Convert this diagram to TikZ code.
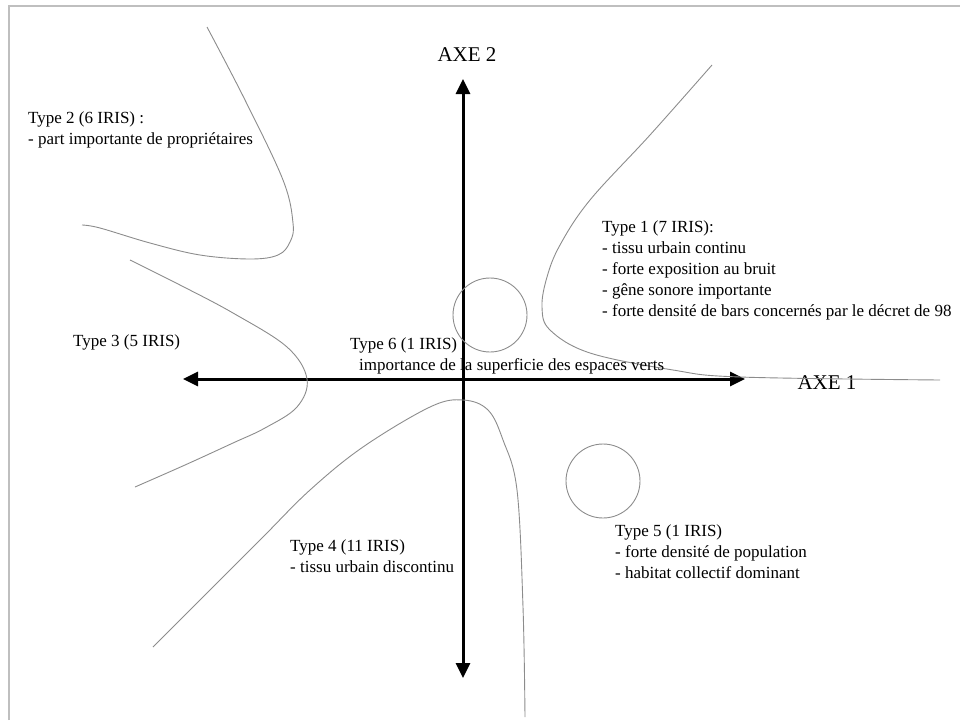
\documentclass[tikz,border=0pt]{standalone}
\usepackage{fontspec}
\setmainfont{Liberation Serif}
\usetikzlibrary{arrows.meta}
\tikzset{
  axe/.style={line width=3pt,-{Triangle[length=15pt,width=14pt]}},
  zone/.style={draw=black!45,line width=0.9pt},
  typetxt/.style={anchor=west,inner sep=0pt,align=left,font=\fontsize{17}{21}\selectfont},
  axetxt/.style={inner sep=0pt,font=\fontsize{21}{24}\selectfont}
}
\begin{document}
\begin{tikzpicture}[x=1pt,y=-1pt]
	\useasboundingbox (0,0) rectangle (960,720);
	\draw[black!25,line width=1.2pt] (9,720) -- (9,6) -- (960,6);

	% axes
	\coordinate (o) at (463,379);
	\coordinate (e1) at (745,379);
	\coordinate (w1) at (183,379);
	\coordinate (n2) at (463,79);
	\coordinate (s2) at (463,678);
	\draw[axe] (o) -- (e1);
	\draw[axe] (o) -- (w1);
	\draw[axe] (o) -- (n2);
	\draw[axe] (o) -- (s2);
	\node[axetxt] (axe1) at (827,383) {AXE 1};
	\node[axetxt] (axe2) at (467,55) {AXE 2};

	% zones
	\draw[zone] plot[smooth,tension=0.6] coordinates {(207,27) (245,100) (283,180) (293,223) (290,242) (278,255) (250,259) (200,255) (150,243) (100,228) (82,225)};
	\draw[zone] plot[smooth,tension=0.6] coordinates {(130,260) (180,285) (233,313) (287,347) (307,379) (297,407) (265,428) (233,443) (185,465) (135,487)};
	\draw[zone] plot[smooth,tension=0.6] coordinates {(153,647) (210,590) (263,537) (310,490) (363,447) (430,407) (463,400) (488,410) (503,440) (517,490) (523,607) (525,717)};
	\draw[zone] plot[smooth,tension=0.6] coordinates {(712,65) (650,135) (590,200) (560,245) (547,277) (542,307) (550,330) (590,353) (673,370) (740,377) (940,380)};
	\draw[zone] (490,315) circle (37);
	\draw[zone] (603,481) circle (37);

	% labels
	\node[typetxt] (t1) at (602,270) {Type 1 (7 IRIS):\\- tissu urbain continu\\- forte exposition au bruit\\- g\^ene sonore importante\\- forte densit\'e de bars concern\'es par le d\'ecret de 98};
	\node[typetxt] (t2) at (28,130) {Type 2 (6 IRIS) :\\- part importante de propri\'etaires};
	\node[typetxt] (t3) at (73,342) {Type 3 (5 IRIS)};
	\node[typetxt] (t4) at (290,556) {Type 4 (11 IRIS)\\- tissu urbain discontinu};
	\node[typetxt] (t5) at (615,552) {Type 5 (1 IRIS)\\- forte densit\'e de population\\- habitat collectif dominant};
	\node[typetxt,anchor=north west] (t6) at (350,337) {Type 6 (1 IRIS)\\\hspace*{9pt}importance de la superficie des espaces verts};
\end{tikzpicture}
\end{document}
